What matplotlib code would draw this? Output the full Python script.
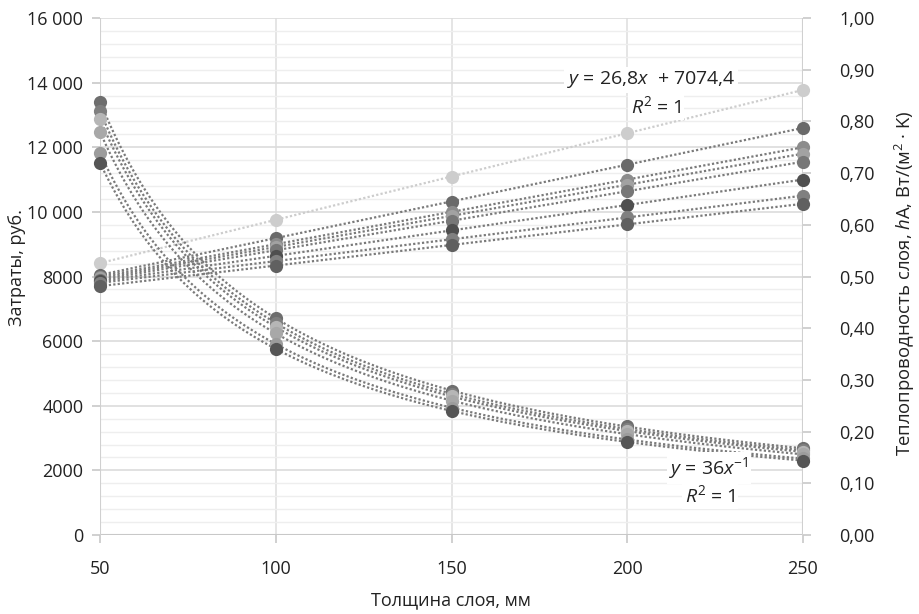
import numpy as np
import matplotlib
matplotlib.use("Agg")
import matplotlib.pyplot as plt
from matplotlib.ticker import FixedLocator, MultipleLocator

plt.rcParams['font.family'] = ['Open Sans', 'DejaVu Sans']
plt.rcParams['mathtext.fontset'] = 'custom'
plt.rcParams['mathtext.rm'] = 'Open Sans'
plt.rcParams['mathtext.it'] = 'Open Sans:italic'

# ---------------- data ----------------
thickness = [50, 100, 150, 200, 250]

# costs (left axis, rub.)
cost_series = [
    [8414, 9754, 11094, 12434, 13774],
    [8050, 9190, 10320, 11460, 12600],
    [8000, 9000, 10000, 11000, 12000],
    [7950, 8910, 9880, 10840, 11800],
    [7900, 8810, 9730, 10640, 11550],
    [7850, 8640, 9430, 10210, 11000],
    [7800, 8480, 9150, 9830, 10500],
    [7700, 8340, 8980, 9610, 10250],
]
cost_colors = ['#cdcdcd', '#6a6a6a', '#8c8c8c', '#a2a2a2', '#777777', '#4f4f4f', '#808080', '#606060']

# heat conductance hA (right axis)
cond_series = [
    [0.838, 0.419, 0.279, 0.210, 0.168],
    [0.820, 0.410, 0.273, 0.205, 0.164],
    [0.804, 0.402, 0.268, 0.201, 0.161],
    [0.780, 0.390, 0.260, 0.195, 0.156],
    [0.738, 0.369, 0.246, 0.185, 0.148],
    [0.720, 0.360, 0.240, 0.180, 0.144],
]
cond_colors = ['#6e6e6e', '#7f7f7f', '#b6b6b6', '#a8a8a8', '#9c9c9c', '#555555']

left_ticks = [0, 2000, 4000, 6000, 8000, 10000, 12000, 14000, 16000]
left_labels = ['0', '2000', '4000', '6000', '8000', '10 000', '12 000', '14 000', '16 000']
right_ticks = [0.0, 0.1, 0.2, 0.3, 0.4, 0.5, 0.6, 0.7, 0.8, 0.9, 1.0]
right_labels = ['0,00', '0,10', '0,20', '0,30', '0,40', '0,50', '0,60', '0,70', '0,80', '0,90', '1,00']

# ---------------- figure ----------------
fig = plt.figure(figsize=(9.19, 6.14), dpi=100)
ax = fig.add_axes([100/919, 79/614, 703/919, 517/614])
ax2 = ax.twinx()

ax.set_xlim(50, 250)
ax.set_ylim(0, 16000)
ax2.set_ylim(0, 1.0)

for a in (ax, ax2):
    for s in a.spines.values():
        s.set_visible(False)

# grid
ax.yaxis.set_minor_locator(MultipleLocator(400))
ax.grid(which='minor', axis='y', color='#eeeeee', lw=1.0, zorder=0)
ax.grid(which='major', axis='y', color='#dcdcdc', lw=1.2, zorder=0)
ax.grid(which='major', axis='x', color='#e0e0e0', lw=1.2, zorder=0)
ax.axhline(0, color='#c8c8c8', lw=1.5, zorder=1)
ax.axvline(50, color='#d0d0d0', lw=1.5, zorder=1)
ax.axvline(250, color='#d0d0d0', lw=1.5, zorder=1)
ax.set_axisbelow(True)

ax.set_xticks(thickness)
ax.set_xticklabels([str(v) for v in thickness])
ax.yaxis.set_major_locator(FixedLocator(left_ticks))
ax.set_yticklabels(left_labels)
ax2.yaxis.set_major_locator(FixedLocator(right_ticks))
ax2.set_yticklabels(right_labels)

ax.tick_params(axis='y', which='minor', length=0)
ax.tick_params(axis='both', which='major', length=6, color='#c8c8c8', width=1.2,
               labelsize=13, labelcolor='#222222')
ax.tick_params(axis='x', pad=12)
ax.tick_params(axis='y', pad=6)
ax2.tick_params(axis='y', length=6, color='#c8c8c8', width=1.2, labelsize=13,
                labelcolor='#222222', pad=20)

xs = np.array(thickness, dtype=float)
xf = np.linspace(50, 250, 300)

# cost series: points + linear trendlines
for vals, c in zip(cost_series, cost_colors):
    b, a0 = np.polyfit(xs, vals, 1)
    lc = c if c == '#cdcdcd' else '#7a7a7a'
    ax.plot(xf, a0 + b * xf, ls=(0, (1, 1)), lw=1.6, color=lc, zorder=3)
for vals, c in zip(cost_series, cost_colors):
    ax.plot(xs, vals, 'o', ms=9.5, color=c, mec='none', zorder=4, clip_on=False)

# conductance series: points + power (x^-1) trendlines
for vals, c in zip(cond_series, cond_colors):
    k = np.mean(np.array(vals) * xs)
    ax2.plot(xf, k / xf, ls=(0, (1, 1)), lw=1.6, color='#7a7a7a', zorder=3)
for vals, c in zip(cond_series, cond_colors):
    ax2.plot(xs, vals, 'o', ms=9.5, color=c, mec='none', zorder=4, clip_on=False)

# equations
bbox = dict(facecolor='white', edgecolor='none', pad=2)

def fig_text(x, y, s):
    fig.text(x/919, 1 - y/614, s, fontsize=14, ha='center', va='center',
             color='#222222', bbox=bbox, zorder=10)

fig_text(651, 80, r'$y$ = 26,8$x$  + 7074,4')
fig_text(656, 106, r'$R^2$ = 1')
fig_text(709, 468, r'$y$ = 36$x^{-1}$')
fig_text(710, 495, r'$R^2$ = 1')

# axis labels
fig.text(17/919, 1 - 268/614, 'Затраты, руб.', rotation=90, fontsize=13,
         ha='center', va='center', color='#222222')
fig.text(451/919, 1 - 600/614, 'Толщина слоя, мм', fontsize=13,
         ha='center', va='center', color='#222222')
fig.text(905/919, 1 - 283/614, r'Теплопроводность слоя, $h$A, Вт/(м$^2$ · K)', rotation=90,
         fontsize=13.3, ha='center', va='center', color='#222222')

fig.savefig('out.png', dpi=100)
